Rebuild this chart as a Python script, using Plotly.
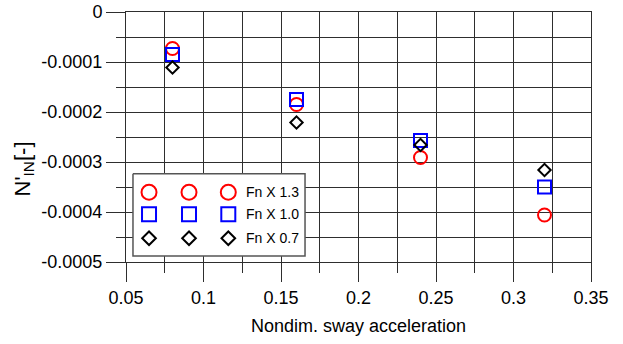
import plotly.graph_objects as go

# Nondimensional sway acceleration (x) and N'_IN coefficient for three speeds
accel = [0.08, 0.16, 0.24, 0.32]
n_fn13 = [-0.000073, -0.000185, -0.000291, -0.000406]
n_fn10 = [-0.000085, -0.000175, -0.000257, -0.000350]
n_fn07 = [-0.000111, -0.000221, -0.000266, -0.000316]

series_names = ["Fn X 1.3", "Fn X 1.0", "Fn X 0.7"]

x_ticks = [0.05, 0.1, 0.15, 0.2, 0.25, 0.3, 0.35]
x_ticktext = ["0.05", "0.1", "0.15", "0.2", "0.25", "0.3", "0.35"]
y_ticks = [0, -0.0001, -0.0002, -0.0003, -0.0004, -0.0005]
y_ticktext = ["0", "-0.0001", "-0.0002", "-0.0003", "-0.0004", "-0.0005"]

FONT = "Liberation Sans, Arial, sans-serif"
GRID = "#2e2e2e"

styles = [
    dict(symbol="circle-open", color="#ff0000", size=13, lsize=15),
    dict(symbol="square-open", color="#0000ff", size=13, lsize=14),
    dict(symbol="diamond-open", color="#000000", size=9.5, lsize=10.5),
]

fig = go.Figure()

for name, vals, st in zip(series_names, [n_fn13, n_fn10, n_fn07], styles):
    fig.add_trace(go.Scatter(
        x=accel, y=vals, mode="markers", name=name, showlegend=False,
        marker=dict(symbol=st["symbol"], size=st["size"],
                    color=st["color"], line=dict(color=st["color"], width=2)),
    ))

# Boxed key drawn on an overlay axis pair spanning the plot area (0..1 fractions)
box_x = [0.015, 0.385, 0.385, 0.015, 0.015]
box_y = [0.353, 0.353, 0.024, 0.024, 0.353]
fig.add_trace(go.Scatter(
    x=box_x, y=box_y, xaxis="x2", yaxis="y2", mode="lines", fill="toself",
    fillcolor="white", line=dict(color="#555555", width=1.5),
    hoverinfo="skip", showlegend=False,
))
key_cols = [0.0495, 0.1355, 0.220]
key_rows = [0.279, 0.191, 0.095]
for name, row, st in zip(series_names, key_rows, styles):
    fig.add_trace(go.Scatter(
        x=key_cols, y=[row] * len(key_cols), xaxis="x2", yaxis="y2",
        mode="markers", showlegend=False, hoverinfo="skip",
        marker=dict(symbol=st["symbol"], size=st["lsize"],
                    color=st["color"], line=dict(color=st["color"], width=2)),
    ))
    fig.add_annotation(
        x=0.254, y=row, xref="x2", yref="y2", text=name, showarrow=False,
        xanchor="left", yanchor="middle", font=dict(family=FONT, size=14, color="#000"),
    )

axis_common = dict(
    automargin=False,
    showgrid=True, gridcolor=GRID, gridwidth=1,
    showline=True, linecolor=GRID, linewidth=1, mirror=True,
    ticks="outside", tickcolor=GRID, tickwidth=1, ticklen=19,
    zeroline=False, tickmode="array",
    tickfont=dict(family=FONT, size=18, color="#000"),
)

fig.update_layout(
    width=623, height=344,
    margin=dict(l=126, r=32, t=12, b=82),
    paper_bgcolor="white", plot_bgcolor="white",
    font=dict(family=FONT, color="#000"),
    xaxis=dict(
        range=[0.05, 0.35], tickvals=x_ticks, ticktext=x_ticktext,
        minor=dict(tickmode="linear", tick0=0.05, dtick=0.025, ticklen=10,
                   tickcolor=GRID, showgrid=True, gridcolor=GRID, gridwidth=1),
        **axis_common,
    ),
    yaxis=dict(
        range=[-0.0005, 0], tickvals=y_ticks, ticktext=y_ticktext,
        minor=dict(tickmode="linear", tick0=0, dtick=0.00005, ticklen=9,
                   tickcolor=GRID, showgrid=True, gridcolor=GRID, gridwidth=1),
        **axis_common,
    ),
    xaxis2=dict(overlaying="x", range=[0, 1], visible=False, fixedrange=True,
                automargin=False),
    yaxis2=dict(overlaying="y", range=[0, 1], visible=False, fixedrange=True,
                automargin=False),
    showlegend=False,
)

# Axis titles
fig.add_annotation(
    x=0.5, y=-0.2565, xref="paper", yref="paper", text="Nondim. sway acceleration",
    showarrow=False, xanchor="center", yanchor="middle",
    font=dict(family=FONT, size=18, color="#000"),
)
fig.add_annotation(
    x=-0.2215, y=0.37, xref="paper", yref="paper", text="N'<sub>IN</sub>[-]",
    showarrow=False, textangle=-90, xanchor="center", yanchor="middle",
    font=dict(family=FONT, size=22, color="#000"),
)

fig.write_html("out.html")
